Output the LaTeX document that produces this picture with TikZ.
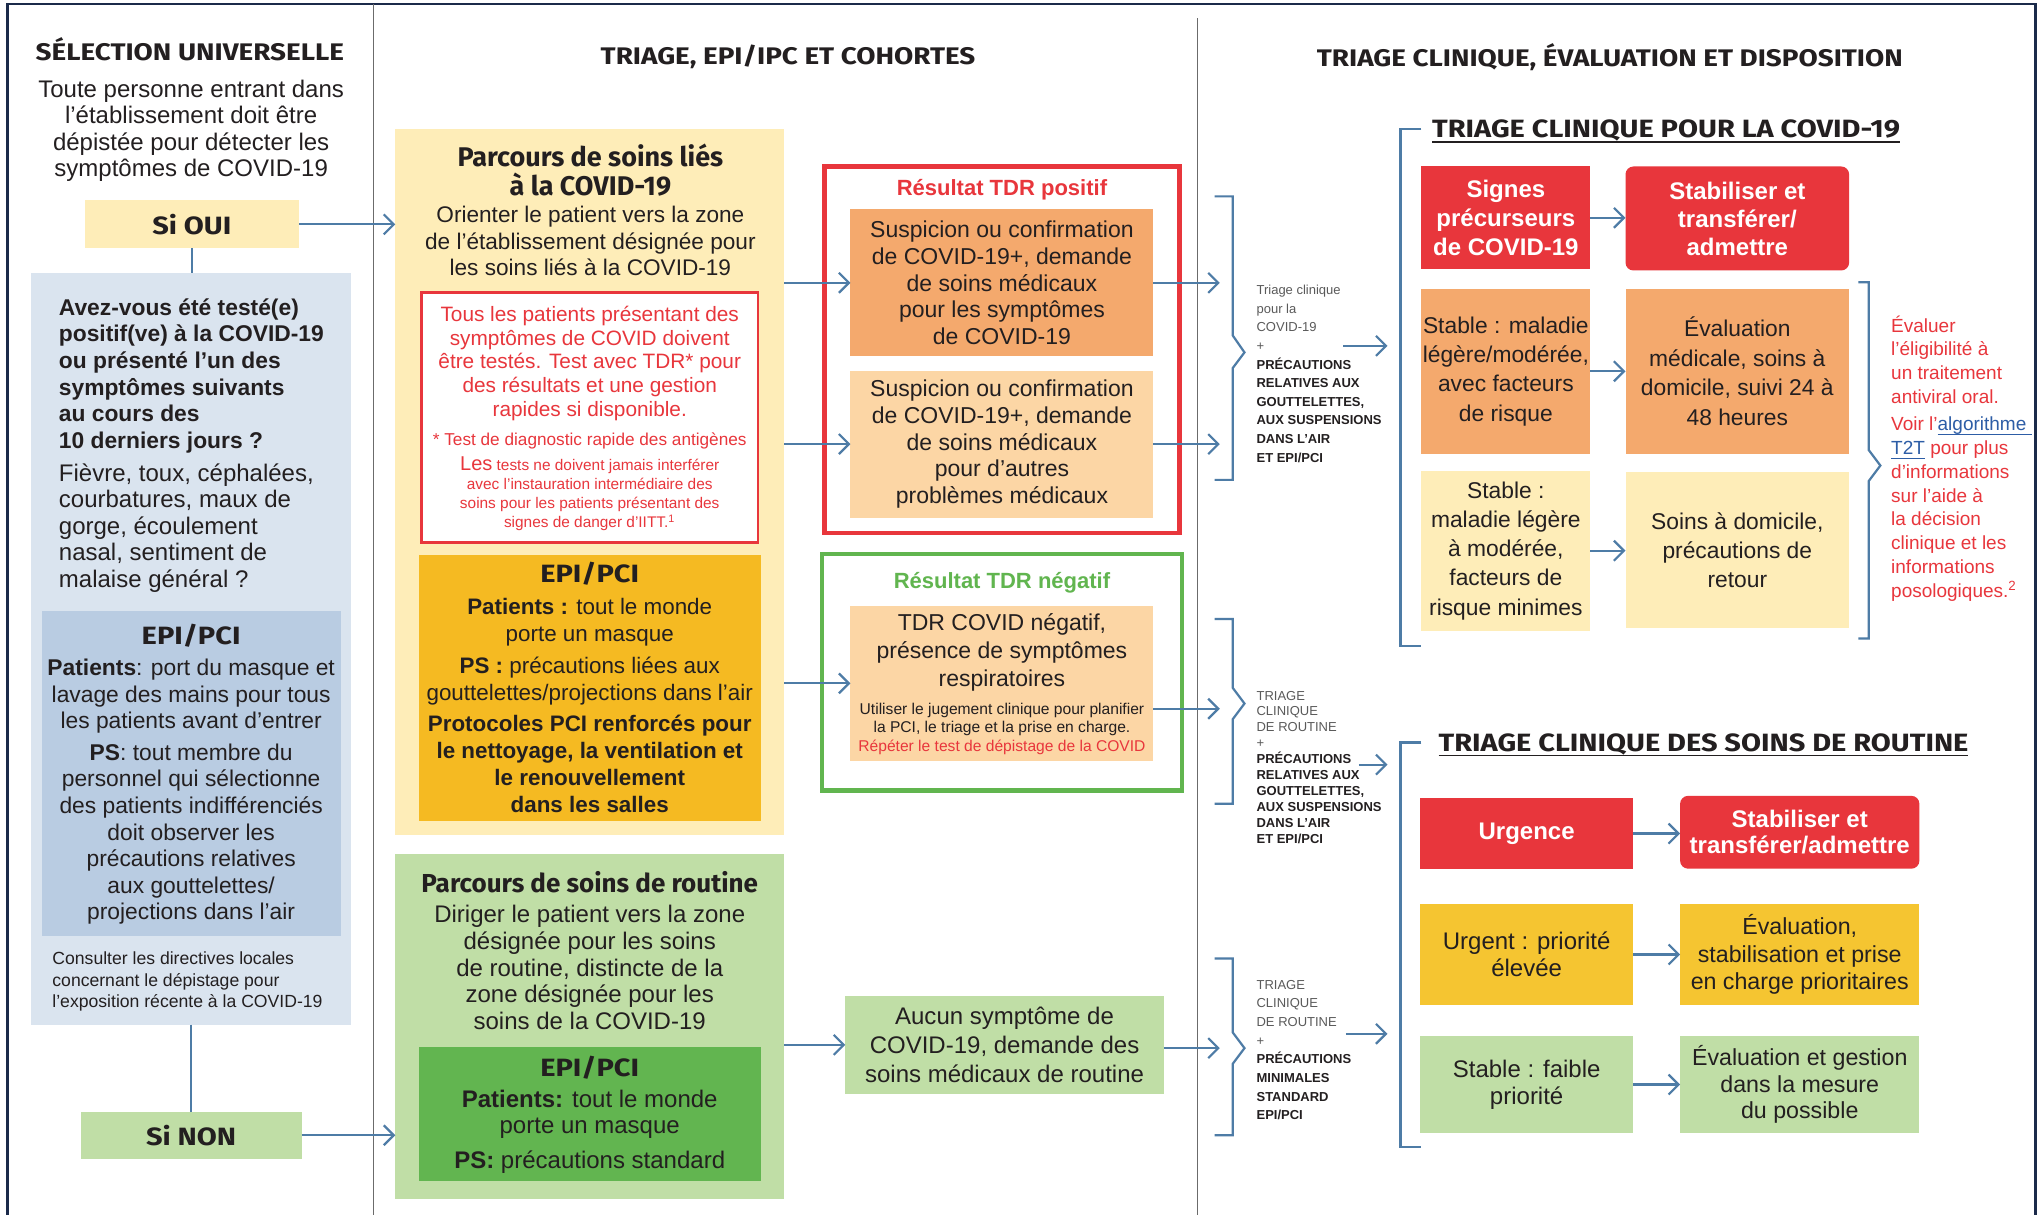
\documentclass[tikz,border=0pt]{standalone}
\usepackage{fontspec}
\setmainfont{Liberation Sans}
\newfontfamily\hdfont{Fira Sans}
\newfontfamily\hdwide{Fira Sans}[FakeStretch=1.16]
\usetikzlibrary{arrows.meta,positioning}

\definecolor{ink}{HTML}{231F20}
\definecolor{navy}{HTML}{1B2A4A}
\definecolor{rule}{HTML}{6B6B6B}
\definecolor{arrowc}{HTML}{4E7CA6}
\definecolor{lyellow}{HTML}{FEEDB8}
\definecolor{lblue}{HTML}{DAE4EF}
\definecolor{mblue}{HTML}{B9CCE2}
\definecolor{lgreen}{HTML}{C0DEA6}
\definecolor{dgreen}{HTML}{62B550}
\definecolor{gold}{HTML}{F5BA22}
\definecolor{gold2}{HTML}{F5C531}
\definecolor{cred}{HTML}{E8363C}
\definecolor{corange}{HTML}{F4A96D}
\definecolor{lorange}{HTML}{FCD6A5}
\definecolor{cgreen}{HTML}{61B54F}
\definecolor{gtext}{HTML}{5A5A5A}
\definecolor{link}{HTML}{2D5DA6}

\newcommand{\fsz}[2]{\fontsize{#1}{#2}\selectfont}
\newcommand{\capb}[1]{\textcolor{ink}{\bfseries #1}}
\newcommand{\uln}[2][0.9pt]{\leavevmode\setbox0=\hbox{#2}\rlap{\rule[-2.4pt]{\wd0}{#1}}\box0}
\newcommand{\lnk}[1]{\textcolor{link}{\uln[0.6pt]{#1}}}

\begin{document}
\begin{tikzpicture}[x=0.65pt, y=-0.65pt,
  bx/.style={inner sep=0pt, outer sep=0pt, align=center, text=ink},
  sz/.style 2 args={minimum width=#1*0.65pt, minimum height=#2*0.65pt},
  txt/.style={inner sep=0pt, align=center, text=ink},
  hd/.style={inner sep=0pt, align=center, text=ink, font=\hdwide\bfseries\fsz{12}{14}},
  brief/.style={inner sep=0pt, align=left, anchor=west, text=gtext, font=\fsz{6.5}{9.3}},
  arr/.style={draw=arrowc, line width=1.1pt, -{Straight Barb[length=5pt,width=10pt]}},
  ln/.style={draw=arrowc, line width=1.1pt}]
\useasboundingbox (0,0) rectangle (1568,934);
\fill[white] (0,0) rectangle (1568,934);

% frame and columns
\draw[navy, line width=1.4pt] (6,934) -- (6,3) -- (1565,3) -- (1565,934);
\draw[rule, line width=0.6pt] (287,3) -- (287,934);
\draw[rule, line width=0.6pt] (921,14) -- (921,934);

% selection universelle
\node[hd] (t1) at (146,38) {SÉLECTION UNIVERSELLE};
\node[txt, font=\fsz{12}{13.2}] (intro) at (147,100.5) {Toute personne entrant dans\\l’établissement doit être\\dépistée pour détecter les\\symptômes de COVID-19};
\node[bx, fill=lyellow, sz={165}{37}, font=\hdwide\bfseries\fsz{12.5}{15}] (oui) at (147.5,172.5) {Si OUI};
\node[bx, fill=lblue, sz={246}{578}] (q) at (147,499) {};
\node[txt, align=left, anchor=west, font=\bfseries\fsz{11.4}{13.3}] (qtxt) at (45,289) {Avez-vous été testé(e)\\positif(ve) à la COVID-19\\ou présenté l’un des\\symptômes suivants\\au cours des\\10 derniers jours ?};
\node[txt, align=left, anchor=west, font=\fsz{12}{13.3}] (sym) at (45,406) {Fièvre, toux, céphalées,\\courbatures, maux de\\gorge, écoulement\\nasal, sentiment de\\malaise général ?};
\node[bx, fill=mblue, sz={230}{250}] (epi1) at (147,595) {};
\node[hd, font=\hdwide\bfseries\fsz{12.5}{15}] (epi1t) at (147,489) {EPI/PCI};
\node[txt, font=\fsz{11.4}{13.3}] (epi1p) at (147,535.5) {\textbf{Patients}: port du masque et\\lavage des mains pour tous\\les patients avant d’entrer};
\node[txt, font=\fsz{11.4}{13.3}] (epi1s) at (147,641.5) {\textbf{PS}: tout membre du\\personnel qui sélectionne\\des patients indifférenciés\\doit observer les\\précautions relatives\\aux gouttelettes/\\projections dans l’air};
\node[txt, align=left, anchor=west, font=\fsz{8.8}{10.7}] (local) at (40,755) {Consulter les directives locales\\concernant le dépistage pour\\l’exposition récente à la COVID-19};
\node[bx, fill=lgreen, sz={170}{36}, font=\hdwide\bfseries\fsz{12.5}{15}] (non) at (147,873) {Si NON};

% triage, epi/ipc et cohortes
\node[hd] (t2) at (606,44) {TRIAGE, EPI/IPC ET COHORTES};
\node[bx, fill=lyellow, sz={299}{543}] (covid) at (453.5,370.5) {};
\node[txt, font=\hdfont\bfseries\fsz{13.5}{14.3}] (covidt) at (454,131) {Parcours de soins liés\\à la COVID-19};
\node[txt, font=\fsz{11.3}{13.3}] (covidx) at (454,185.5) {Orienter le patient vers la zone\\de l’établissement désignée pour\\les soins liés à la COVID-19};
\node[bx, fill=white, draw=cred, line width=1.3pt, sz={259}{192}] (rtest) at (453.5,321) {};
\node[txt, text=cred, font=\fsz{10.4}{11.9}] (rtxt) at (453.5,279.5) {Tous les patients présentant des\\symptômes de COVID doivent\\être testés. Test avec TDR* pour\\des résultats et une gestion\\rapides si disponible.};
\node[txt, text=cred, font=\fsz{8.6}{10}] (rtdr) at (453.5,339) {* Test de diagnostic rapide des antigènes};
\node[txt, text=cred, font=\fsz{7.7}{9.5}] (rsmall) at (453.5,380) {{\fsz{10}{9.5}Les} tests ne doivent jamais interférer\\avec l’instauration intermédiaire des\\soins pour les patients présentant des\\signes de danger d’IITT.\textsuperscript{1}};
\node[bx, fill=gold, sz={263}{204}] (epi2) at (453.5,529) {};
\node[hd, font=\hdwide\bfseries\fsz{12.5}{15}] (epi2t) at (453.5,441) {EPI/PCI};
\node[txt, font=\fsz{11.2}{13.45}] (epi2x) at (453.5,542.5) {\textbf{Patients :} tout le monde\\porte un masque\\[2.2pt]\textbf{PS :} précautions liées aux\\gouttelettes/projections dans l’air\\[2.2pt]\textbf{Protocoles PCI renforcés pour}\\\textbf{le nettoyage, la ventilation et}\\\textbf{le renouvellement}\\\textbf{dans les salles}};
\node[bx, fill=lgreen, sz={299}{265}] (routine) at (453.5,789.5) {};
\node[txt, font=\hdfont\bfseries\fsz{13}{15}] (routinet) at (453.5,678) {Parcours de soins de routine};
\node[txt, font=\fsz{12}{13.3}] (routinex) at (453.5,744) {Diriger le patient vers la zone\\désignée pour les soins\\de routine, distincte de la\\zone désignée pour les\\soins de la COVID-19};
\node[bx, fill=dgreen, sz={263}{103}] (epi3) at (453.5,856.5) {};
\node[hd, font=\hdwide\bfseries\fsz{12.5}{15}] (epi3t) at (453.5,821) {EPI/PCI};
\node[txt, font=\fsz{12}{13}] (epi3x) at (453.5,870.5) {\textbf{Patients:} tout le monde\\porte un masque\\[4.5pt]\textbf{PS:} précautions standard};

% resultats TDR
\node[bx, fill=white, draw=cred, line width=2.2pt, sz={273}{282}] (pos) at (770.5,269) {};
\node[txt, text=cred, font=\bfseries\fsz{11}{13}] (post) at (770.5,146) {Résultat TDR positif};
\node[bx, fill=corange, sz={233}{113}, font=\fsz{11.5}{13.3}] (pos1) at (770.5,217.5) {Suspicion ou confirmation\\de COVID-19+, demande\\de soins médicaux\\pour les symptômes\\de COVID-19};
\node[bx, fill=lorange, sz={233}{113}, font=\fsz{11.5}{13.3}] (pos2) at (770.5,341.5) {Suspicion ou confirmation\\de COVID-19+, demande\\de soins médicaux\\pour d’autres\\problèmes médicaux};
\node[bx, fill=white, draw=cgreen, line width=2.2pt, sz={277}{182}] (neg) at (770.5,517) {};
\node[txt, text=cgreen, font=\bfseries\fsz{11}{13}] (negt) at (770.5,448) {Résultat TDR négatif};
\node[bx, fill=lorange, sz={233}{119}] (neg1) at (770.5,525.5) {};
\node[txt, font=\fsz{11.5}{14}] (neg1x) at (770.5,502) {TDR COVID négatif,\\présence de symptômes\\respiratoires};
\node[txt, font=\fsz{7.8}{9.4}] (neg1s) at (770.5,560.5) {Utiliser le jugement clinique pour planifier\\la PCI, le triage et la prise en charge.\\\textcolor{cred}{Répéter le test de dépistage de la COVID}};
\node[bx, fill=lgreen, sz={245}{75}, font=\fsz{12}{14.3}] (aucun) at (772.5,803.5) {Aucun symptôme de\\COVID-19, demande des\\soins médicaux de routine};

\draw[ln] (oui.south) -- (oui.south |- q.north);
\draw[ln] (q.south) -- (non.north);
\draw[arr] (oui.east) -- (oui.east -| covid.west);
\draw[arr] (non.east) -- (non.east -| routine.west);
\draw[arr] (covid.east |- pos1) -- (pos1.west);
\draw[arr] (covid.east |- pos2) -- (pos2.west);
\draw[arr] (covid.east |- neg1) -- (neg1.west);
\draw[arr] (routine.east |- aucun) -- (aucun.west);

% braces
\coordinate (br1) at (938,269);
\coordinate (br2) at (938,545);
\coordinate (br3) at (938,806);
\draw[arr] (pos1.east) -- (pos1.east -| br1);
\draw[arr] (pos2.east) -- (pos2.east -| br1);
\draw[arr] (neg1.east |- br2) -- (br2);
\draw[arr] (aucun.east |- br3) -- (br3);
\draw[ln] (934,151) -- (948,151) -- (948,258) -- (957,271) -- (948,283) -- (948,369) -- (934,369);
\draw[ln] (934,476) -- (948,476) -- (948,529) -- (957,541) -- (948,553) -- (948,618) -- (934,618);
\draw[ln] (934,737) -- (948,737) -- (948,794) -- (957,806) -- (948,818) -- (948,873) -- (934,873);
\node[brief] (c1) at (966,287.5) {Triage clinique\\pour la\\COVID-19\\+\\\capb{PRÉCAUTIONS}\\\capb{RELATIVES AUX}\\\capb{GOUTTELETTES,}\\\capb{AUX SUSPENSIONS}\\\capb{DANS L’AIR}\\\capb{ET EPI/PCI}};
\node[brief, font=\fsz{6.5}{7.95}] (c2) at (966,590) {TRIAGE\\CLINIQUE\\DE ROUTINE\\+\\\capb{PRÉCAUTIONS}\\\capb{RELATIVES AUX}\\\capb{GOUTTELETTES,}\\\capb{AUX SUSPENSIONS}\\\capb{DANS L’AIR}\\\capb{ET EPI/PCI}};
\node[brief] (c3) at (966,807.5) {TRIAGE\\CLINIQUE\\DE ROUTINE\\+\\\capb{PRÉCAUTIONS}\\\capb{MINIMALES}\\\capb{STANDARD}\\\capb{EPI/PCI}};
\coordinate (o1) at (1033,266);
\coordinate (e1) at (1067,266);
\coordinate (o2) at (1045,588);
\coordinate (e2) at (1067,588);
\coordinate (o3) at (1035,795);
\coordinate (e3) at (1067,795);
\draw[arr] (o1) -- (e1);
\draw[arr] (o2) -- (e2);
\draw[arr] (o3) -- (e3);

% triage clinique, evaluation et disposition
\node[hd] (t3) at (1238,44) {TRIAGE CLINIQUE, ÉVALUATION ET DISPOSITION};
\draw[ln] (1093,99) -- (1077,99) -- (1077,497) -- (1093,497);
\draw[ln] (1093,571) -- (1077,571) -- (1077,882) -- (1093,882);
\node[hd, anchor=west, font=\hdwide\bfseries\fsz{12.5}{14}] (s1) at (1101,101) {\uln{TRIAGE CLINIQUE POUR LA COVID-19}};
\node[hd, anchor=west, font=\hdwide\bfseries\fsz{12.5}{14}] (s2) at (1106,573) {\uln{TRIAGE CLINIQUE DES SOINS DE ROUTINE}};

\node[bx, fill=cred, text=white, sz={130}{79}, font=\bfseries\fsz{12}{14.3}] (signs) at (1158,167.5) {Signes\\précurseurs\\de COVID-19};
\node[bx, fill=cred, text=white, rounded corners=4pt, sz={172}{80}, font=\bfseries\fsz{12}{14}] (stab1) at (1336,168) {Stabiliser et\\transférer/\\admettre};
\node[bx, fill=corange, sz={130}{127}, font=\fsz{11.4}{14.7}] (risk) at (1158,285.5) {Stable : maladie\\légère/modérée,\\avec facteurs\\de risque};
\node[bx, fill=corange, sz={172}{127}, font=\fsz{11.4}{14.7}] (eval1) at (1336,285.5) {Évaluation\\médicale, soins à\\domicile, suivi 24 à\\48 heures};
\node[bx, fill=lyellow, sz={130}{123}, font=\fsz{11.4}{14.6}] (minor) at (1158,423.5) {Stable :\\maladie légère\\à modérée,\\facteurs de\\risque minimes};
\node[bx, fill=lyellow, sz={172}{120}, font=\fsz{11.4}{14.6}] (home) at (1336,423) {Soins à domicile,\\précautions de\\retour};
\draw[arr] (signs.east) -- (signs.east -| stab1.west);
\draw[arr] (risk.east) -- (risk.east -| eval1.west);
\draw[arr] (minor.east) -- (minor.east -| home.west);

\draw[ln] (1429,217) -- (1437,217) -- (1437,346) -- (1446,358) -- (1437,370) -- (1437,491) -- (1429,491);
\node[txt, text=cred, align=left, anchor=west, font=\fsz{9.5}{11.9}] (antiv) at (1454,276.5) {Évaluer\\l’éligibilité à\\un traitement\\antiviral oral.};
\node[txt, text=cred, align=left, anchor=west, font=\fsz{9.5}{11.95}] (t2t) at (1454,391.5) {Voir l’\lnk{algorithme\ }\\\lnk{T2T} pour plus\\d’informations\\sur l’aide à\\la décision\\clinique et les\\informations\\posologiques.\textsuperscript{2}};

\node[bx, fill=cred, text=white, sz={164}{54}, font=\bfseries\fsz{12}{14}] (urg) at (1174,641) {Urgence};
\node[bx, fill=cred, text=white, rounded corners=4pt, sz={184}{56}, font=\bfseries\fsz{12}{13}] (stab2) at (1384,640) {Stabiliser et\\transférer/admettre};
\node[bx, fill=gold2, sz={164}{78}, font=\fsz{12}{13.7}] (urgent) at (1174,734) {Urgent : priorité\\élevée};
\node[bx, fill=gold2, sz={184}{78}, font=\fsz{11.6}{13.7}] (eval2) at (1384,734) {Évaluation,\\stabilisation et prise\\en charge prioritaires};
\node[bx, fill=lgreen, sz={164}{74}, font=\fsz{12}{13.7}] (stable) at (1174,834) {Stable : faible\\priorité};
\node[bx, fill=lgreen, sz={184}{74}, font=\fsz{11.6}{13.3}] (eval3) at (1384,834) {Évaluation et gestion\\dans la mesure\\du possible};
\draw[arr] (urg.east) -- (urg.east -| stab2.west);
\draw[arr] (urgent.east) -- (urgent.east -| eval2.west);
\draw[arr] (stable.east) -- (stable.east -| eval3.west);
\end{tikzpicture}
\end{document}
